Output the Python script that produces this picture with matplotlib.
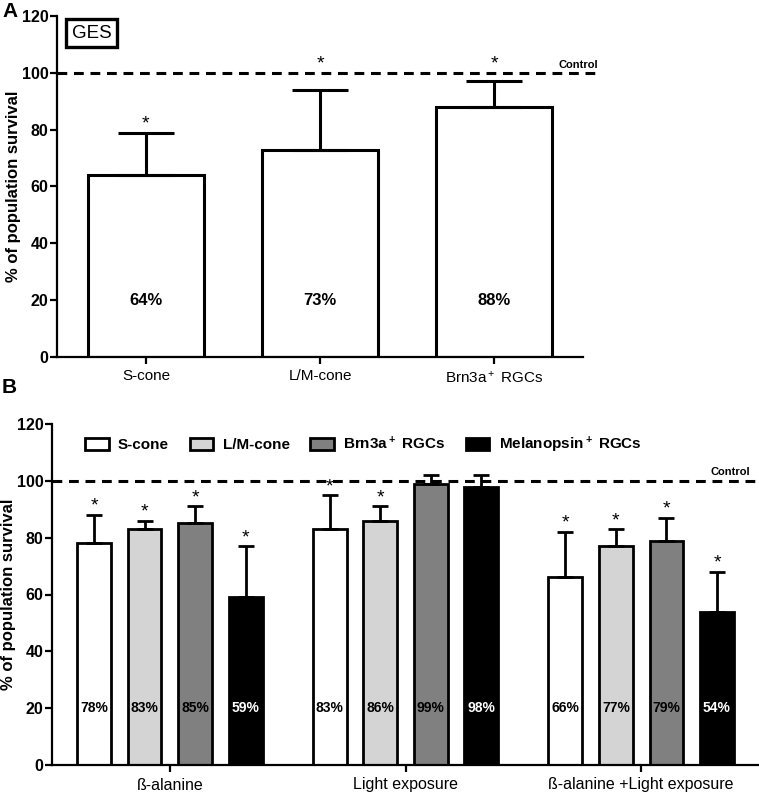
import matplotlib
matplotlib.use("Agg")
import matplotlib.pyplot as plt
import numpy as np

plt.rcParams['font.family'] = ['Liberation Sans', 'DejaVu Sans']
plt.rcParams['mathtext.default'] = 'regular'

NARROW = ['Liberation Sans Narrow', 'Liberation Sans', 'DejaVu Sans']

# ---------------- data ----------------
a_categories = ['S-cone', 'L/M-cone', 'Brn3a$^+$ RGCs']
a_values = [64, 73, 88]
a_errors = [15, 21, 9]
a_labels = ['64%', '73%', '88%']
a_star_y = [82, 103, 103]

b_groups = ['ß-alanine', 'Light exposure', 'ß-alanine +Light exposure']
b_series = ['S-cone', 'L/M-cone', 'Brn3a$^+$ RGCs', 'Melanopsin$^+$ RGCs']
b_scone = [78, 83, 66]
b_lmcone = [83, 86, 77]
b_brn3a = [85, 99, 79]
b_melan = [59, 98, 54]
b_scone_err = [10, 12, 16]
b_lmcone_err = [3, 5, 6]
b_brn3a_err = [6, 3, 8]
b_melan_err = [18, 4, 14]
b_star = [[True, True, True], [True, True, True], [True, False, True], [True, False, True]]
b_colors = ['white', '#d4d4d4', '#808080', 'black']
b_text_colors = ['black', 'black', 'black', 'white']

yticks = [0, 20, 40, 60, 80, 100, 120]

fig = plt.figure(figsize=(7.59, 7.92), dpi=100)

LW = 1.6

def style_axes(ax, xlabsize):
    for s in ['top', 'right']:
        ax.spines[s].set_visible(False)
    for s in ['left', 'bottom']:
        ax.spines[s].set_linewidth(LW)
    ax.set_ylim(0, 120)
    ax.set_yticks(yticks)
    ax.tick_params(axis='y', width=LW, length=5, labelsize=11.5, pad=1)
    ax.tick_params(axis='x', width=LW, length=5, labelsize=xlabsize, pad=4)
    for t in ax.get_yticklabels():
        t.set_fontfamily(NARROW)
        t.set_fontweight('bold')
    ax.set_ylabel('% of population survival', fontsize=12, fontweight='bold', labelpad=1)

# ---------------- panel A ----------------
axA = fig.add_axes([57/759, 1-357/792, (583-57)/759, 341/792])
xa = np.arange(len(a_categories))
axA.bar(xa, a_values, width=0.667, color='white', edgecolor='black', linewidth=2.2, zorder=2)
axA.errorbar(xa, a_values, yerr=[np.zeros(len(a_errors)), a_errors], fmt='none',
             ecolor='black', elinewidth=2.2, capsize=20.5, capthick=2.2, zorder=3)
axA.set_xlim(-0.511, 2.511)
axA.set_xticks(xa)
axA.set_xticklabels(a_categories)
style_axes(axA, 11)
for x, lab in zip(xa, a_labels):
    axA.text(x, 20, lab, ha='center', va='center', fontsize=12, fontweight='bold', family=NARROW)
for x, sy in zip(xa, a_star_y):
    axA.text(x, sy, '*', ha='center', va='center', fontsize=14)
axA.plot([-0.511, 2.6], [100, 100], ls=(0, (3.2, 2.2)), color='black', lw=2.2,
         clip_on=False, zorder=4)
axA.text(2.6, 101, 'Control', ha='right', va='bottom', fontsize=8, fontweight='bold')
axA.text(-0.31, 114, 'GES', ha='center', va='center', fontsize=13.5,
         bbox=dict(boxstyle='square,pad=0.3', fc='white', ec='black', lw=2.4))
fig.text(2/759, 1-2/792, 'A', ha='left', va='top', fontsize=15, fontweight='bold')

# ---------------- panel B ----------------
axB = fig.add_axes([52/759, 1-765/792, (759-52)/759, 341/792])
xb = np.arange(len(b_groups))
vals = [b_scone, b_lmcone, b_brn3a, b_melan]
errs = [b_scone_err, b_lmcone_err, b_brn3a_err, b_melan_err]
spacing = 0.2145
offsets = (np.arange(4) - 1.5) * spacing
for i in range(4):
    pos = xb + offsets[i]
    axB.bar(pos, vals[i], width=0.143, color=b_colors[i], edgecolor='black',
            linewidth=2.0, zorder=2, label=b_series[i])
    axB.errorbar(pos, vals[i], yerr=[np.zeros(3), errs[i]], fmt='none', ecolor='black',
                 elinewidth=2.0, capsize=5.6, capthick=2.0, zorder=3)
    for j in range(3):
        axB.text(pos[j], 20, f'{vals[i][j]}%', ha='center', va='center', fontsize=10,
                 fontweight='bold', family=NARROW, color=b_text_colors[i], zorder=5)
        if b_star[i][j]:
            axB.text(pos[j], vals[i][j] + errs[i][j] + 3.0, '*', ha='center', va='center',
                     fontsize=14, zorder=5)
axB.set_xlim(-0.5, 2.5)
axB.set_xticks(xb)
axB.set_xticklabels(b_groups)
style_axes(axB, 11.5)
axB.plot([-0.5, 2.5], [100, 100], ls=(0, (3.2, 2.2)), color='black', lw=2.2,
         clip_on=False, zorder=1)
axB.text(2.463, 101.5, 'Control', ha='right', va='bottom', fontsize=8, fontweight='bold')
leg = axB.legend(loc='center left', bbox_to_anchor=(0.047, 0.94), ncol=4, frameon=False,
                 handlelength=1.55, handleheight=0.85, handletextpad=0.6, columnspacing=1.35,
                 prop=dict(family=NARROW, weight='bold', size=11), borderaxespad=0, borderpad=0)
for h in leg.legend_handles:
    h.set_linewidth(2.0)
fig.text(2/759, 1-378/792, 'B', ha='left', va='top', fontsize=15, fontweight='bold')

fig.savefig('out.png', dpi=100)
